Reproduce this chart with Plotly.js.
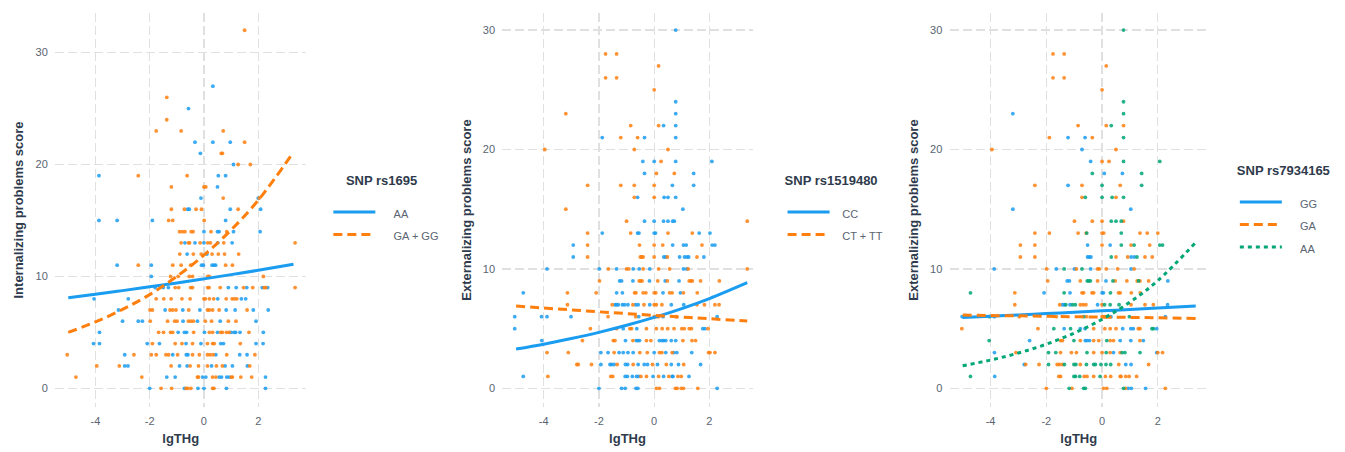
<!DOCTYPE html>
<html>
<head>
<meta charset="utf-8">
<script src="https://cdn.plot.ly/plotly-3.0.1.min.js"></script>
<style>html,body{margin:0;padding:0;background:#fff}#chart{width:1345px;height:452px}</style>
</head>
<body>
<div id="chart"></div>
<script>
// ---------- Panel 1: Internalizing score by SNP rs1695 ----------
const p1_AA_x = [0.33,-0.57,-0.33,0.33,0.97,-0.13,1.09,-3.87,0.53,0.8,0.5,-0.11,2.0,-0.6,-0.54,0.97,2.09,-3.87,-3.2,-1.9,0.8,0,0.5,0.56,1.09,2.07,-0.7,-0.33,0,0.51,1.04,-0.62,0.11,-3.2,-1.94,-0.09,-0.02,0.3,0.37,0.43,-1.94,-1.8,-1.5,-1.31,0.9,1.19,1.58,2.15,2.35,-4.05,-2.79,0.51,1.38,1.54,-3.15,-1.43,-0.78,-0.15,0.82,1.15,1.82,2.37,-3.0,-2.42,-2.27,-0.77,-0.24,0.6,1.92,-3.85,-0.95,-0.72,-0.64,0.02,0.5,1.0,1.11,1.17,1.33,2.19,-4.07,-3.85,-2.09,-1.64,-0.66,-0.11,0.62,0.72,1.92,2.18,-2.92,-1.15,-0.65,-0.59,0.44,1.32,1.59,-2.92,-2.8,-0.9,-0.62,0.28,0.78,1.05,1.6,-1.37,-1.06,-0.05,0.07,0.56,0.65,0.84,0.93,2.27,-2.0,-0.72,-0.22,0,0.83,2.27];
const p1_AA_y = [27,25,22,22,22,21,20,19,19,19,18,17,17,16,16,16,16,15,15,15,15,14,14,14,14,14,13,13,13,13,13,12,12,11,11,11,11,11,11,11,10,9,9,9,9,9,9,9,9,8,8,8,8,8,7,7,7,7,7,7,7,7,6,6,6,6,6,6,6,5,5,5,5,5,5,5,5,5,5,5,4,4,4,4,4,4,4,4,4,4,3,3,3,3,3,3,3,2,2,2,2,2,2,2,2,1,1,1,1,1,1,1,1,1,0,0,0,0,0,0];
const p1_GA_x = [1.5,-1.37,-1.37,-1.76,-0.84,0.71,1.5,0.64,0.68,1.26,1.71,-2.42,-0.62,-1.2,0,0.07,0.71,2.04,-1.2,-0.72,-0.29,-0.09,1.26,-1.3,-1.15,0.01,-0.9,-0.8,-0.7,-0.47,-0.4,0.26,0.84,-0.84,-0.57,-0.53,-0.14,0.14,0.24,0.73,3.36,-0.89,-0.39,-0.1,0.3,0.53,0.76,1.28,-2.42,-1.15,-0.84,-0.49,0.8,1.05,-1.23,-0.95,-0.54,-0.42,0.14,0.2,2.19,-1.06,-0.93,-0.49,-0.42,0.14,0.19,0.6,1.46,1.8,2.22,2.28,3.36,-1.76,-1.48,-1.21,-0.81,-0.51,0,0.05,0.2,0.36,0.82,1.04,1.12,1.21,-1.99,-1.9,-1.25,-1.15,-1.03,-0.56,0.13,0.2,0.32,0.56,1.59,-1.98,-1.34,-1.08,-0.99,-0.57,-0.48,-0.39,0.05,0.28,0.9,1.18,-1.67,-1.49,-1.23,-1.15,-0.38,0.2,0.32,0.62,0.68,0.83,0.93,1.66,-1.9,-1.06,-0.81,-0.42,0.13,0.32,0.38,1.34,-5.04,-2.58,-1.94,-1.76,-1.4,-1.3,-0.97,-0.42,-0.17,0.13,0.23,0.34,0.84,1.88,-3.95,-3.12,-1.21,-0.51,-0.2,0.13,0.46,0.68,1.69,-4.72,-2.29,-0.24,-0.2,0.32,0.44,1.01,1.05,1.36,1.76,-1.58,-1.19,-0.66,-0.59,-0.48,0.32,0.37];
const p1_GA_y = [32,26,24,23,23,23,22,21,21,20,20,19,19,18,18,18,17,17,16,16,16,16,16,15,15,15,14,14,14,14,14,14,14,13,13,13,13,13,13,13,13,12,12,12,12,12,12,12,11,11,11,11,11,11,10,10,10,10,10,10,10,9,9,9,9,9,9,9,9,9,9,9,9,8,8,8,8,8,8,8,8,8,8,8,8,8,7,7,7,7,7,7,7,7,7,7,7,6,6,6,6,6,6,6,6,6,6,6,5,5,5,5,5,5,5,5,5,5,5,5,4,4,4,4,4,4,4,4,3,3,3,3,3,3,3,3,3,3,3,3,3,3,2,2,2,2,2,2,2,2,2,1,1,1,1,1,1,1,1,1,1,0,0,0,0,0,0,0];
const p1_fit_x = [-5,-4,-3,-2,-1,0,1,2,3.3];
const p1_fit_AA = [8.1,8.41,8.73,9.07,9.42,9.78,10.16,10.55,11.08];
const p1_fit_GA = [5.0,5.93,7.05,8.37,10.0,11.9,14.15,16.8,21.1];

// ---------- Panel 2: Externalizing score by SNP rs1519480 ----------
const p2_CC_x = [0.78,0.78,0.78,0.34,0.78,-1.88,-0.35,0.78,-0.41,0,0.78,2.09,-0.35,1.43,0.66,1.43,-0.6,0.36,0.5,0.78,1.04,-0.35,0,0.34,0.5,0.67,0.73,-1.88,-0.6,-0.55,0,0.05,1.63,2.02,-2.93,0.67,1.06,1.16,2.1,2.2,-2.93,0.35,0.42,0.92,1.1,1.19,1.25,1.8,-3.88,-1.99,-1.36,-0.76,-0.54,-0.16,1.06,1.18,-1.25,-1.18,-0.77,-0.17,0.4,0.9,-4.74,-1.36,-1.15,0.32,0.95,-1.42,-1.36,-1.3,-1.15,-1.07,-0.95,-0.67,-0.58,-0.16,0.62,1.07,-5.05,-4.08,-3.88,-3.01,-0.56,0.32,2.28,-5.05,-1.12,-0.63,1.76,1.84,-4.07,-1.04,-0.65,-0.59,-0.53,0.19,0.28,0.34,0.42,0.62,0.78,-1.93,-1.67,-1.27,-1.12,-0.95,-0.76,0,0.42,0.71,0.82,1.36,-1.93,-1.6,-1.54,-1.45,-1.04,-0.96,-0.58,-0.36,-0.24,0.12,0.62,0.88,1.68,-4.74,-1.05,-0.97,-0.79,-0.64,-0.56,-0.04,0.34,0.65,0.68,1.26,-2.0,-1.18,-1.05,-0.66,-0.59,2.28];
const p2_CC_y = [30,24,23,22,22,21,21,21,19,19,19,19,18,18,17,17,16,16,16,16,15,14,14,14,14,14,14,13,13,13,13,13,13,13,12,12,12,12,12,12,11,11,11,11,11,11,11,11,10,10,10,10,10,10,10,10,9,9,9,9,9,9,8,8,8,8,8,7,7,7,7,7,7,7,7,7,7,7,6,6,6,6,6,6,6,5,5,5,5,5,4,4,4,4,4,4,4,4,4,4,4,3,3,3,3,3,3,3,3,3,3,3,2,2,2,2,2,2,2,2,2,2,2,2,2,1,1,1,1,1,1,1,1,1,1,1,0,0,0,0,0,0];
const p2_CT_x = [-1.76,-1.36,0.16,-1.76,-1.36,0,-3.2,-0.85,0.16,-1.21,-0.6,-3.96,-0.72,0.5,0.25,0.08,0.73,-2.41,-1.21,-0.72,0,-0.72,0,-3.2,-1.0,3.37,-2.41,-0.85,0.5,1.38,-2.41,-0.53,0,0.31,1.73,-2.41,-0.5,-0.45,-0.4,0,0.48,1.55,-1.66,-1.0,-0.92,-0.4,0.16,0.56,1.23,3.37,-1.98,-0.54,-0.49,-0.44,0.13,0.48,1.27,1.33,1.38,1.68,2.36,-3.14,-2.1,-0.71,-0.66,-0.4,-0.3,0,0.06,0.56,0.65,1.06,1.56,-3.14,-1.52,-0.77,-0.37,0,0.08,0.28,1.55,1.82,2.2,2.35,-1.67,-0.67,0,0.08,0.16,0.8,-2.31,-1.36,-0.88,-0.82,-0.28,0.08,0.29,0.49,0.72,1.0,1.09,1.27,1.35,1.95,-2.6,-1.48,-1.42,-0.77,-0.28,-0.12,1.04,1.37,1.5,-3.88,-3.11,-1.45,-0.52,-0.25,0.19,0.28,0.65,1.97,2.02,2.2,-2.8,-2.75,-2.27,-1.34,-0.76,-0.06,0.44,1.07,-3.85,-1.57,-1.5,-0.48,-0.28,0.16,0.53,0.86,0.98,0.08,0.19,0.77,0.83,0.98,1.06,1.58];
const p2_CT_y = [28,28,27,26,26,25,23,22,22,21,21,20,20,20,19,18,18,17,17,17,17,16,16,15,14,14,13,13,13,13,12,12,12,12,12,11,11,11,11,11,11,11,10,10,10,10,10,10,10,10,9,9,9,9,9,9,9,9,9,9,9,8,8,8,8,8,8,8,8,8,8,8,8,7,7,7,7,7,7,7,7,7,7,7,6,6,6,6,6,6,5,5,5,5,5,5,5,5,5,5,5,5,5,5,4,4,4,4,4,4,4,4,4,3,3,3,3,3,3,3,3,3,3,3,2,2,2,2,2,2,2,2,1,1,1,1,1,1,1,1,1,0,0,0,0,0,0,0];
const p2_fit_x = [-5,-4,-3,-2,-1,0,1,2,3.37];
const p2_fit_CC = [3.29,3.70,4.17,4.69,5.28,5.94,6.68,7.52,8.85];
const p2_fit_CT = [6.89,6.73,6.57,6.41,6.26,6.11,5.97,5.83,5.64];

// ---------- Panel 3: Externalizing score by SNP rs7934165 ----------
const p3_GG_x = [-3.2,-1.22,-0.61,-0.72,-0.41,0.08,0.73,-1.22,-3.2,1.03,-0.52,0.29,-0.52,-0.46,-0.4,1.04,1.15,-3.87,-1.64,-0.99,-0.41,1.04,-1.25,-1.17,0.14,2.36,-2.08,-1.15,0,0.05,-1.42,-1.35,-1.15,-0.16,2.35,-5.02,-3.86,0.32,2.27,-1.36,-0.78,-0.61,0.74,1.03,1.12,1.96,-2.6,-0.6,-0.54,-0.45,0.65,1.03,1.48,-3.86,0.41,1.96,-2.79,0.85,1.04,-3.85,0.94,1.05,1.56];
const p3_GG_y = [23,21,21,20,19,18,18,17,15,15,12,12,11,11,11,11,11,10,10,10,10,10,9,9,9,9,8,8,8,8,7,7,7,7,7,6,6,6,6,5,5,5,5,5,5,5,4,4,4,4,4,4,4,3,3,3,2,2,2,1,0,0,0];
const p3_GA_x = [-1.76,-1.36,0.15,-1.76,-1.36,0,-0.86,0.15,0.77,-1.89,-0.35,-3.95,0.5,0,0.25,-2.41,-0.72,0.65,-0.72,0.5,-0.99,-0.35,0,0.77,-2.41,-1.89,-0.86,-0.57,0,0.06,1.36,1.62,2.0,-2.93,-2.41,0,1.04,1.71,-2.93,-2.41,0.5,0.92,1.54,1.8,-1.99,-0.92,-0.16,-0.1,0.15,0.56,1.15,-1.95,-0.78,-0.16,0.47,0.89,1.26,1.36,1.67,-3.13,-0.72,-0.66,-0.36,-0.3,0.59,0.65,1.05,1.37,-3.13,-1.52,-0.78,-0.68,-0.58,0,1.04,1.54,1.84,-2.97,-1.64,-0.56,0,0.08,0.16,-5.03,-2.3,-0.3,0.1,0.29,0.5,1.3,1.36,-1.49,-1.42,-0.78,-0.3,-0.12,0.29,0.41,1.36,-3.09,-1.49,-1.1,-0.92,-0.3,0,0.29,0.65,2.0,2.17,-2.74,-2.26,-1.61,-1.53,-1.42,-0.78,0.6,1.67,-1.55,-1.49,-0.64,-0.54,-0.3,0.12,0.31,0.65,0.68,0.85,0.97,1.24,-2.0,-1.08,0.05,0.17,0.84,2.27];
const p3_GA_y = [28,28,27,26,26,25,22,22,22,21,21,20,20,19,19,17,17,17,16,16,14,14,14,14,13,13,13,13,13,13,13,13,13,12,12,12,12,12,11,11,11,11,11,11,10,10,10,10,10,10,10,9,9,9,9,9,9,9,9,8,8,8,8,8,8,8,8,8,7,7,7,7,7,7,7,7,7,6,6,6,6,6,6,5,5,5,5,5,5,5,5,4,4,4,4,4,4,4,4,3,3,3,3,3,3,3,3,3,3,2,2,2,2,2,2,2,2,1,1,1,1,1,1,1,1,1,1,1,1,0,0,0,0,0,0];
const p3_AA_x = [0.77,0.77,0.77,0.33,0.77,0.77,2.07,-0.35,1.42,0,1.42,-0.6,0,0.36,0.77,0.33,0.5,0.69,-0.55,0.69,0.69,1.15,2.07,2.17,0.33,1.25,-1.36,-0.72,-0.53,-0.48,-0.42,0.39,1.31,-4.72,-1.36,0.3,-1.3,-1.06,-0.96,0.09,0.29,0.61,-4.04,-0.66,0.98,-1.73,-1.13,1.79,1.84,-4.05,-1.01,0.17,-1.92,-1.66,-0.54,0.15,0.72,0.82,1.36,-1.92,-1.35,-1.01,-0.94,-0.56,-0.3,-0.24,-0.04,0.14,0.31,-4.72,-1.01,-0.95,-0.8,-0.07,-1.18,-0.66,-0.6,0.77];
const p3_AA_y = [30,24,23,22,21,19,19,18,18,17,17,16,16,16,16,14,14,14,13,13,12,12,12,12,11,11,10,10,9,9,9,9,9,8,8,8,7,7,7,7,7,7,6,6,6,5,5,5,5,4,4,4,3,3,3,3,3,3,3,2,2,2,2,2,2,2,2,2,2,1,1,1,1,1,0,0,0,0];
const p3_fit_x = [-5,-4,-3,-2,-1,0,1,2,3.36];
const p3_fit_GG = [5.94,6.04,6.15,6.26,6.38,6.49,6.61,6.72,6.89];
const p3_fit_GA = [6.14,6.10,6.07,6.04,6.00,5.97,5.94,5.91,5.86];
const p3_fit_AA = [1.90,2.37,2.96,3.70,4.63,5.78,7.22,9.02,12.22];

// ---------- Labels ----------
const xTitle = 'lgTHg';
const xTickVals = [-4,-2,0,2];
const xTickText = ['-4','-2','0','2'];
const yTickVals = [0,10,20,30];
const yTitles = ['Internalizing problems score','Externalizing problems score','Externalizing problems score'];
const legendTitles = ['SNP rs1695','SNP rs1519480','SNP rs7934165'];
const names1 = ['AA','GA + GG'];
const names2 = ['CC','CT + TT'];
const names3 = ['GG','GA','AA'];

const BLUE='#1a9cf0', ORANGE='#ff7f0e', GREEN='#00a675';
const FONT='Liberation Sans, Arial, sans-serif';
const TXT='#2f3b4c', TICK='#5a6472';

function pts(x,y,c,xa,ya){
  return {type:'scatter',mode:'markers',x:x,y:y,xaxis:xa,yaxis:ya,showlegend:false,hoverinfo:'skip',
    marker:{color:c,size:3.8,opacity:0.85,line:{width:0}}};
}
function fit(x,y,c,dash,name,xa,ya,leg,pad){
  return {type:'scatter',mode:'lines',x:x,y:y,xaxis:xa,yaxis:ya,
    name:'<span style="font-size:11px">'+pad+name+'</span>',legend:leg,
    line:{color:c,width:3,dash:dash,shape:'spline'},hoverinfo:'skip'};
}
const DASH='9px,5px', DOT='4px,4px';
const P1='\u2002\u2002\u2009', P2='\u2002\u2009';
const data = [
  pts(p1_AA_x,p1_AA_y,BLUE,'x','y'),
  pts(p1_GA_x,p1_GA_y,ORANGE,'x','y'),
  fit(p1_fit_x,p1_fit_AA,BLUE,'solid',names1[0],'x','y','legend',P1),
  fit(p1_fit_x,p1_fit_GA,ORANGE,DASH,names1[1],'x','y','legend',P1),
  pts(p2_CC_x,p2_CC_y,BLUE,'x2','y2'),
  pts(p2_CT_x,p2_CT_y,ORANGE,'x2','y2'),
  fit(p2_fit_x,p2_fit_CC,BLUE,'solid',names2[0],'x2','y2','legend2',P2),
  fit(p2_fit_x,p2_fit_CT,ORANGE,DASH,names2[1],'x2','y2','legend2',P2),
  pts(p3_GG_x,p3_GG_y,BLUE,'x3','y3'),
  pts(p3_GA_x,p3_GA_y,ORANGE,'x3','y3'),
  pts(p3_AA_x,p3_AA_y,GREEN,'x3','y3'),
  fit(p3_fit_x,p3_fit_GG,BLUE,'solid',names3[0],'x3','y3','legend3',P1),
  fit(p3_fit_x,p3_fit_GA,ORANGE,DASH,names3[1],'x3','y3','legend3',P1),
  fit(p3_fit_x,p3_fit_AA,GREEN,DOT,names3[2],'x3','y3','legend3',P1)
];

function xax(dom,rng){
  return {domain:dom,range:rng,tickvals:xTickVals,ticktext:xTickText,showgrid:true,gridcolor:'#e0e0e0',gridwidth:1.3,griddash:'9px,4px',
    zeroline:false,showline:false,ticks:'outside',ticklen:4,tickcolor:'rgba(0,0,0,0)',
    tickfont:{family:FONT,size:11,color:TICK},
    title:{text:xTitle,font:{family:FONT,size:13,color:TXT,weight:'bold'},standoff:7}};
}
function yax(rng,t){
  return {domain:[0,1],range:rng,tickvals:yTickVals,showgrid:true,gridcolor:'#e0e0e0',gridwidth:1.3,griddash:'9px,4px',
    zeroline:false,showline:false,ticks:'outside',ticklen:4,tickcolor:'rgba(0,0,0,0)',
    tickfont:{family:FONT,size:11,color:TICK},
    title:{text:t,font:{family:FONT,size:13,color:TXT,weight:'bold'},standoff:8}};
}
function leg(x,y,t,pad){
  return {x:x,y:y,xanchor:'left',yanchor:'top',bgcolor:'rgba(0,0,0,0)',itemwidth:42,
    font:{family:FONT,size:15,color:TICK},
    title:{text:'<span style="font-size:13px">'+pad+t+'</span><br>\u2009',font:{family:FONT,size:8,color:TXT,weight:'bold'}}};
}
const W=1345, L=55, R=130, PW=W-L-R;
const layout = {
  width:1345,height:452,paper_bgcolor:'#fff',plot_bgcolor:'#fff',
  margin:{l:L,r:R,t:13,b:45},showlegend:true,
  font:{family:FONT},
  xaxis: Object.assign(xax([0,(308-L)/PW],[-5.49,3.78]),{anchor:'y'}),
  xaxis2:Object.assign(xax([(505-L)/PW,(757-L)/PW],[-5.50,3.57]),{anchor:'y2'}),
  xaxis3:Object.assign(xax([(955-L)/PW,1],[-5.47,3.80]),{anchor:'y3'}),
  yaxis: Object.assign(yax([-1.67,33.54],yTitles[0]),{anchor:'x'}),
  yaxis2:Object.assign(yax([-1.56,31.43],yTitles[1]),{anchor:'x2'}),
  yaxis3:Object.assign(yax([-1.56,31.43],yTitles[2]),{anchor:'x3'}),
  legend: leg((330-L)/PW,(407-175)/394,legendTitles[0],P1),
  legend2:leg((787-L)/PW,(407-175)/394,legendTitles[1],''),
  legend3:leg((1242-L)/PW,(407-165)/394,legendTitles[2],'')
};
Plotly.newPlot('chart',data,layout,{displayModeBar:false,staticPlot:true});
</script>
</body>
</html>
